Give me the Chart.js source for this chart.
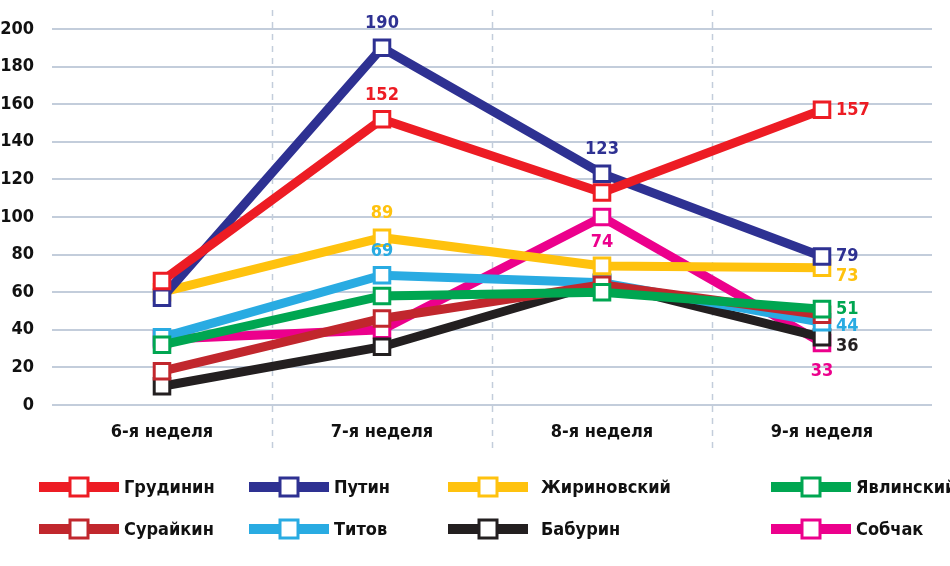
<!DOCTYPE html>
<html>
<head>
<meta charset="utf-8">
<script src="https://cdn.jsdelivr.net/npm/chart.js@4.4.0/dist/chart.umd.min.js"></script>
<style>
  html, body { margin: 0; padding: 0; background: #fff; }
  #wrap { width: 950px; height: 566px; }
</style>
</head>
<body>
<div id="wrap"><canvas id="chart" width="950" height="566"></canvas></div>
<script>
const weeks = ["6-я неделя", "7-я неделя", "8-я неделя", "9-я неделя"];
const candidates = ["Грудинин", "Путин", "Жириновский", "Явлинский", "Сурайкин", "Титов", "Бабурин", "Собчак"];

const grudinin = [66, 152, 113, 157];
const putin = [57, 190, 123, 79];
const zhirinovsky = [60, 89, 74, 73];
const yavlinsky = [32, 58, 60, 51];
const suraykin = [18, 46, 64, 48];
const titov = [36, 69, 65, 44];
const baburin = [10, 31, 65, 36];
const sobchak = [35, 40, 100, 33];

// labels printed next to points, as they appear on the picture
const grudininLabels = [null, "152", null, "157"];
const putinLabels = [null, "190", "123", "79"];
const zhirinovskyLabels = [null, "89", null, "73"];
const yavlinskyLabels = [null, null, null, "51"];
const suraykinLabels = [null, null, null, null];
const titovLabels = [null, "69", null, "44"];
const baburinLabels = [null, null, null, "36"];
const sobchakLabels = [null, null, "74", "33"];

const series = [grudinin, putin, zhirinovsky, yavlinsky, suraykin, titov, baburin, sobchak];
const pointLabels = [grudininLabels, putinLabels, zhirinovskyLabels, yavlinskyLabels,
  suraykinLabels, titovLabels, baburinLabels, sobchakLabels];
const colors = ["#ED1C24", "#2E3192", "#FFC20E", "#00A651", "#C1272D", "#29ABE2", "#231F20", "#EC008C"];

const FONT = "'DejaVu Sans Condensed', 'DejaVu Sans', sans-serif";
const GRID = "#C3CDDB";

// label placement tweaks so the end labels don't collide
const belowLabels = [7];
const endNudge = { 2: 9, 5: 4, 6: 9 };

const valueLabels = {
  id: "valueLabels",
  afterDatasetsDraw(chart) {
    const { ctx } = chart;
    ctx.save();
    ctx.font = "bold 18px " + FONT;
    ctx.textBaseline = "middle";
    chart.data.datasets.forEach((ds, i) => {
      const meta = chart.getDatasetMeta(i);
      pointLabels[i].forEach((txt, j) => {
        if (!txt) return;
        const p = meta.data[j];
        ctx.fillStyle = colors[i];
        const last = j === weeks.length - 1;
        if (belowLabels.includes(i)) {
          ctx.textAlign = "center";
          ctx.fillText(txt, p.x, p.y + (last ? 28 : 25));
        } else if (last) {
          ctx.textAlign = "left";
          ctx.fillText(txt, p.x + 14, p.y + (endNudge[i] || 0));
        } else {
          ctx.textAlign = "center";
          ctx.fillText(txt, p.x, p.y - 24);
        }
      });
    });
    ctx.restore();
  },
};

// dashed separators between weeks
const weekSeparators = {
  id: "weekSeparators",
  beforeDatasetsDraw(chart) {
    const { ctx, scales } = chart;
    const x = scales.x;
    ctx.save();
    ctx.strokeStyle = GRID;
    ctx.lineWidth = 1.5;
    ctx.setLineDash([6, 6]);
    for (let i = 0; i < weeks.length - 1; i++) {
      const px = Math.round((x.getPixelForValue(i) + x.getPixelForValue(i + 1)) / 2) + 0.5;
      ctx.beginPath();
      ctx.moveTo(px, 10);
      ctx.lineTo(px, 450);
      ctx.stroke();
    }
    ctx.restore();
  },
};

const legendCols = [39, 249, 448, 771];
const legendRows = [487, 529];

const customLegend = {
  id: "customLegend",
  afterDraw(chart) {
    const { ctx } = chart;
    ctx.save();
    chart.data.datasets.forEach((ds, i) => {
      const x = legendCols[i % 4];
      const y = legendRows[Math.floor(i / 4)];
      ctx.strokeStyle = ds.borderColor;
      ctx.lineWidth = 10;
      ctx.beginPath();
      ctx.moveTo(x, y);
      ctx.lineTo(x + 80, y);
      ctx.stroke();
      ctx.fillStyle = "#fff";
      ctx.lineWidth = 3;
      ctx.fillRect(x + 31, y - 9, 18, 18);
      ctx.strokeRect(x + 31, y - 9, 18, 18);
      ctx.fillStyle = "#111";
      ctx.font = "bold 18px " + FONT;
      ctx.textAlign = "left";
      ctx.textBaseline = "middle";
      ctx.fillText(ds.label, x + (i % 4 === 2 ? 93 : 85), y + 1);
    });
    ctx.restore();
  },
};

new Chart(document.getElementById("chart"), {
  type: "line",
  data: {
    labels: weeks,
    datasets: candidates.map((name, i) => ({
      label: name,
      data: series[i],
      borderColor: colors[i],
      backgroundColor: "#fff",
      borderWidth: 9,
      pointStyle: "rect",
      pointRadius: 11,
      pointBorderWidth: 3,
      pointBackgroundColor: "#fff",
      pointBorderColor: colors[i],
      tension: 0,
    })),
  },
  options: {
    responsive: false,
    animation: false,
    events: [],
    layout: { padding: { top: 29, right: 18, left: 0, bottom: 106 } },
    plugins: {
      legend: { display: false },
      tooltip: { enabled: false },
    },
    scales: {
      x: {
        offset: true,
        grid: { display: false, drawTicks: false },
        border: { display: false },
        ticks: { color: "#111", padding: 17, font: { family: FONT, size: 18, weight: "bold" } },
        afterFit(scale) { scale.height = 55; },
      },
      y: {
        min: 0,
        max: 200,
        ticks: { stepSize: 20, color: "#111", padding: 18, font: { family: FONT, size: 18, weight: "bold" } },
        grid: { color: GRID, lineWidth: 2, drawTicks: false },
        border: { display: false },
        afterFit(scale) { scale.width = 52; },
      },
    },
  },
  plugins: [weekSeparators, valueLabels, customLegend],
});
</script>
</body>
</html>
